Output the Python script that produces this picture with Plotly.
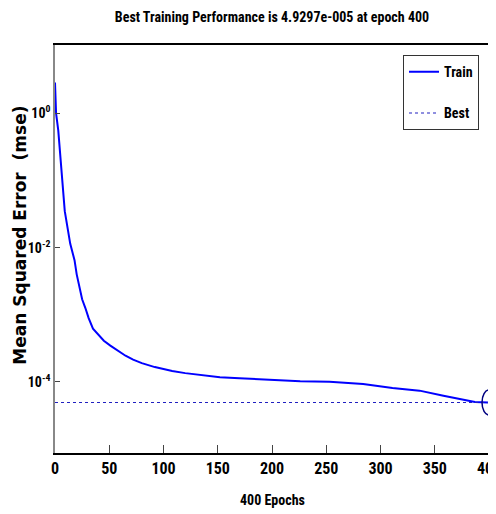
import math
import plotly.graph_objects as go

# ---- data ----
epochs = [0, 1, 3, 6, 9, 14, 18, 20, 23, 25, 28, 31, 35, 40, 45, 51, 58, 65, 72, 80, 92,
          108, 120, 135, 152, 170, 194, 226, 253, 272, 284, 311, 336, 358, 373, 387, 400]
mse = [2.9, 1.0, 0.56, 0.148, 0.035, 0.0115, 0.0065, 0.004, 0.0023, 0.0017, 0.00126,
       8.9e-4, 6.2e-4, 5.0e-4, 4.1e-4, 3.47e-4, 2.88e-4, 2.45e-4, 2.14e-4, 1.9e-4, 1.66e-4,
       1.45e-4, 1.35e-4, 1.26e-4, 1.17e-4, 1.13e-4, 1.07e-4, 1.02e-4, 1.0e-4, 9.5e-5,
       9.3e-5, 8.1e-5, 7.4e-5, 6.2e-5, 5.5e-5, 5.0e-5, 4.9297e-5]
best_value = 4.9297e-5
best_epoch = 400
x_ticks = [0, 50, 100, 150, 200, 250, 300, 350, 400]
y_ticks = [1, 1e-2, 1e-4]
y_tick_text = ["10<sup>0</sup>", "10<sup>-2</sup>", "10<sup>-4</sup>"]
x_range = [0, 400]
y_log_range = [-5.06, 1.02]

NARROW = "Roboto Condensed, DejaVu Sans Condensed, sans-serif"

fig = go.Figure()
fig.add_trace(go.Scatter(
    x=epochs, y=mse, mode="lines", name="Train", legendgroup="a",
    line=dict(color="#0000FF", width=2),
))
fig.add_trace(go.Scatter(
    x=[epochs[0], epochs[-1]], y=[best_value, best_value], mode="lines", name="Best",
    legendgroup="b", line=dict(color="#2020C0", width=1.2, dash="dot"),
))

# open ellipse marking the best epoch, placed through the axis scales (paper fractions)
bx = (best_epoch - x_range[0]) / (x_range[1] - x_range[0])
by = (math.log10(best_value) - y_log_range[0]) / (y_log_range[1] - y_log_range[0])
fig.add_shape(
    type="circle", xref="paper", yref="paper",
    xsizemode="pixel", ysizemode="pixel",
    xanchor=bx, yanchor=by,
    x0=-7, x1=7, y0=-12.5, y1=12.5,
    line=dict(color="#000080", width=1.5), layer="above",
)

# the page body has an 8px margin, so the figure is 8px smaller than the window
fig.update_layout(
    width=488, height=506,
    margin=dict(l=47, r=7, t=37, b=61, autoexpand=False),
    paper_bgcolor="white", plot_bgcolor="white",
    title=dict(
        text="<b>Best Training Performance is 4.9297e-005 at epoch 400</b>",
        x=0.5, xref="paper", xanchor="center", y=0.982, yref="container", yanchor="middle",
        font=dict(family=NARROW, size=14, color="black"),
    ),
    showlegend=True,
    legend=dict(
        x=0.977, xanchor="right", y=0.975, yanchor="top",
        bordercolor="#333333", borderwidth=1, bgcolor="white",
        font=dict(family=NARROW, size=14, color="black", weight="bold"),
        tracegroupgap=20, itemwidth=30,
    ),
    xaxis=dict(
        range=x_range, tickvals=x_ticks, ticks="inside", ticklen=8,
        tickcolor="#444444", showline=True, linecolor="black", linewidth=1.5,
        mirror=True, showgrid=False, zeroline=False, automargin=False,
        ticklabeloverflow="allow",
        tickfont=dict(family=NARROW, size=16, color="black", weight="bold"),
    ),
    yaxis=dict(
        type="log", range=y_log_range, tickvals=y_ticks, ticktext=y_tick_text,
        ticks="inside", ticklen=5, tickcolor="#444444", automargin=False,
        showline=True, linecolor="#888888", linewidth=1.5, mirror=True,
        showgrid=False, zeroline=False,
        tickfont=dict(family=NARROW, size=14, color="black", weight="bold"),
    ),
    annotations=[
        dict(text="<b>400 Epochs</b>", xref="paper", yref="paper", x=0.5, y=-0.115,
             xanchor="center", yanchor="middle", showarrow=False,
             font=dict(family=NARROW, size=14, color="black")),
        dict(text="<b>Mean Squared Error  (mse)</b>", xref="paper", yref="paper",
             x=-0.0795, y=0.534, xanchor="center", yanchor="middle", textangle=-90,
             showarrow=False,
             font=dict(family="DejaVu Sans, sans-serif", size=17, color="black")),
    ],
)

fig.write_html("out.html")
